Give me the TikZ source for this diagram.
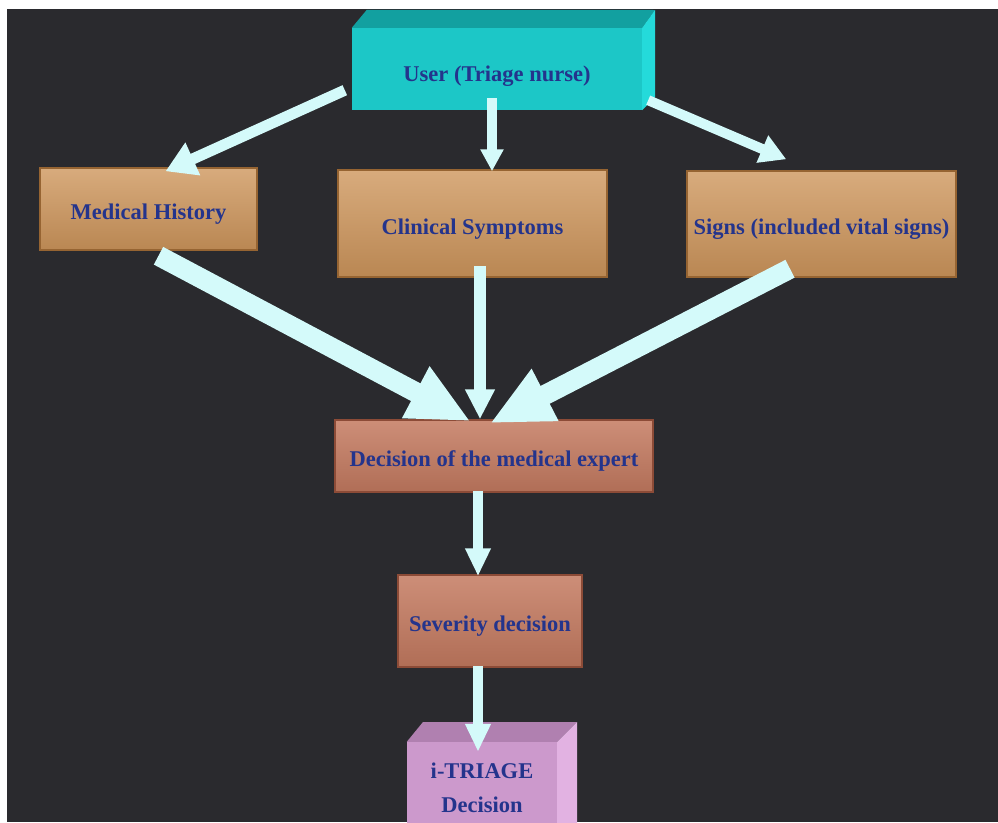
\documentclass[tikz,border=0pt]{standalone}
\usepackage{fontspec}
\setmainfont{Liberation Serif}
\usetikzlibrary{arrows.meta,calc}

\definecolor{bgdark}{RGB}{42,42,46}
\definecolor{labelblue}{RGB}{36,52,140}
\definecolor{arrowcyan}{RGB}{212,250,250}
\definecolor{tanbox}{RGB}{206,150,92}
\definecolor{tanedge}{RGB}{150,100,50}
\definecolor{brickbox}{RGB}{196,122,96}
\definecolor{brickedge}{RGB}{140,75,55}

\begin{document}
\begin{tikzpicture}[x=1pt,y=-1pt]
        % Define styles
        \tikzset{
            stepbox/.style={rectangle, draw=tanedge, line width=1.5pt, inner sep=0pt,
                top color=tanbox!80!white, bottom color=tanbox!90!black,
                text height=25pt, text depth=4pt,
                font=\fontsize{22.5}{27}\selectfont\bfseries, text=labelblue},
            brickstep/.style={stepbox, draw=brickedge,
                top color=brickbox!85!white, bottom color=brickbox!90!black},
            front/.style={rectangle, inner sep=0pt, align=center,
                font=\fontsize{22.5}{34}\selectfont\bfseries, text=labelblue},
            fatarrow/.style={draw=arrowcyan, line width=#1},
            fatarrow/.default=11pt
        }

        % Background
        \useasboundingbox (0,0) rectangle (998,822);
        \fill[white] (0,0) rectangle (998,822);
        \fill[bgdark] (7,9) rectangle (998,822);

        % Nodes
        \node[front, fill={rgb,255:red,28;green,199;blue,199}, minimum width=290pt, minimum height=82pt,
            text height=29pt, text depth=4pt]
            (user) at (497,69) {User (Triage nurse)};
        \fill[fill={rgb,255:red,18;green,160;blue,160}] (user.north west) -- ++(15,-18) -- (655,10) -- (user.north east) -- cycle;
        \fill[fill={rgb,255:red,36;green,218;blue,218}] (user.north east) -- (655,10) -- (655,97) -- (user.south east) -- cycle;

        \node[stepbox, minimum width=217pt, minimum height=82pt] (medhist) at (148.5,209) {Medical History};
        \node[stepbox, minimum width=269pt, minimum height=107pt] (clinical) at (472.5,223.5) {Clinical Symptoms};
        \node[stepbox, minimum width=269pt, minimum height=106pt] (signs) at (821.5,224) {Signs (included vital signs)};

        \node[brickstep, minimum width=318pt, minimum height=72pt] (decision) at (494,456) {Decision of the medical expert};
        \node[brickstep, minimum width=184pt, minimum height=92pt] (severity) at (490,621) {Severity decision};

        \node[front, fill={rgb,255:red,204;green,153;blue,204}, minimum width=150pt, minimum height=92pt]
            (itriage) at (482,788) {i-TRIAGE\\Decision};
        \fill[fill={rgb,255:red,176;green,128;blue,176}] (itriage.north west) -- (423,722) -- (577,722) -- (itriage.north east) -- cycle;
        \fill[fill={rgb,255:red,226;green,178;blue,226}] (itriage.north east) -- (577,722) -- (577,830) -- (itriage.south east) -- cycle;

        % Arrows
        \draw[fatarrow, -{Triangle[width=34pt,length=30pt]}]
            ($(user.south west)+(-7,-20)$) -- ($(medhist.north)+(17,4)$);
        \draw[fatarrow=10pt, -{Triangle[width=22pt,length=22pt]}]
            ($(user.south)+(-5,-12)$) -- ($(clinical.north)+(19.5,2)$);
        \draw[fatarrow=10pt, -{Triangle[width=28pt,length=26pt]}]
            ($(user.south east)+(6,-10)$) -- ($(signs.north west)+(100,-11)$);
        \draw[fatarrow=20pt, -{Triangle[width=54pt,length=62pt]}]
            ($(medhist.south)+(10,5)$) -- ($(decision.north)+(-23.5,2)$);
        \draw[fatarrow=12pt, -{Triangle[width=28pt,length=30pt]}]
            ($(clinical.south)+(7.5,-12)$) -- ($(decision.north)+(-14,0)$);
        \draw[fatarrow=20pt, -{Triangle[width=54pt,length=62pt]}]
            ($(signs.south)+(-31.5,-9)$) -- ($(decision.north)+(-4,4)$);
        \draw[fatarrow=10pt, -{Triangle[width=24pt,length=28pt]}]
            ($(decision.south)+(-16,-2)$) -- ($(severity.north)+(-12,2)$);
        \draw[fatarrow=10pt, -{Triangle[width=24pt,length=28pt]}]
            ($(severity.south)+(-12,-2)$) -- ($(itriage.north)+(-4,10)$);
    \end{tikzpicture}
\end{document}
